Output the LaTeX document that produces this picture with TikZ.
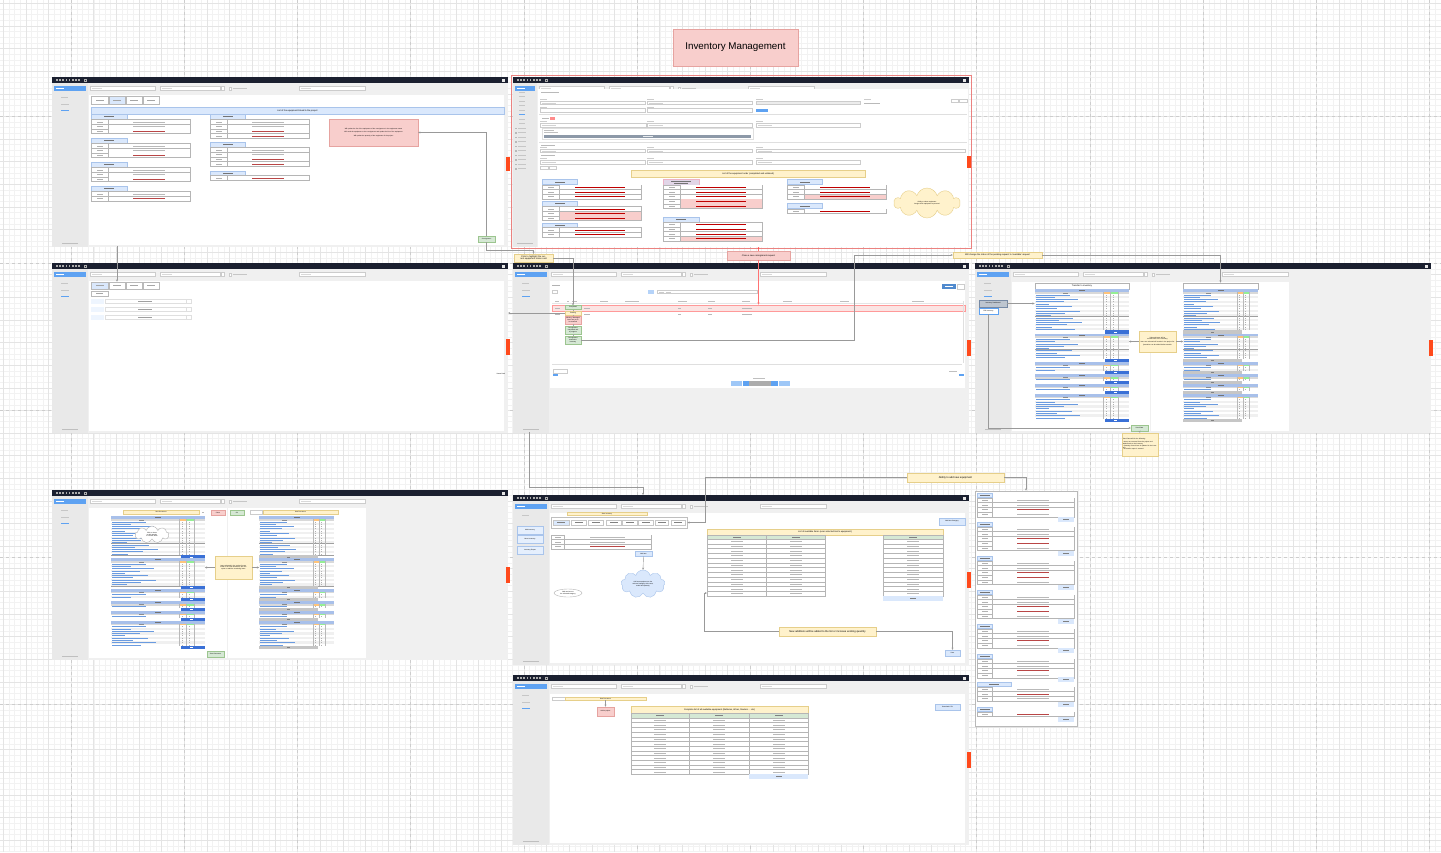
\documentclass[tikz,border=0pt]{standalone}
\usepackage{fontspec}
\setmainfont{Liberation Sans}
\usetikzlibrary{arrows.meta,shapes.symbols,shapes.geometric,calc}
\definecolor{topbar}{HTML}{1B2030}
\definecolor{scrbg}{HTML}{F0F0F0}
\definecolor{sidebg}{HTML}{E9E9E9}
\definecolor{hlblue}{HTML}{5EA2F2}
\definecolor{lblue}{HTML}{DAE8FC}
\definecolor{lblueB}{HTML}{A9C4EB}
\definecolor{yel}{HTML}{FFF2CC}
\definecolor{yelB}{HTML}{E6CF8A}
\definecolor{pnk}{HTML}{F8CECC}
\definecolor{pnkB}{HTML}{E6A3A0}
\definecolor{grn}{HTML}{D5E8D4}
\definecolor{grnB}{HTML}{9CC58F}
\definecolor{purp}{HTML}{E1D5E7}
\definecolor{orangetab}{HTML}{FF4A1C}
\definecolor{shhdr}{HTML}{A8C0EA}
\definecolor{shbtn}{HTML}{3A70D6}
\definecolor{shtxt}{HTML}{6A9BE0}
\definecolor{tblc}{HTML}{B5B5B5}
\definecolor{gridminor}{HTML}{F2F2F2}
\definecolor{gridmajor}{HTML}{E4E4E4}
\definecolor{pageline}{HTML}{CDCDCD}
\definecolor{conc}{HTML}{999999}
\definecolor{slatebar}{HTML}{8D99A8}
\colorlet{kcw}{white}
\colorlet{kcg}{gray!55}
\colorlet{kcr}{red!75!black}
\colorlet{kcm}{red!45!gray}
\colorlet{kcp}{pnk}
\newcommand{\tinyf}{\fontsize{2.2}{2.6}\selectfont}
\newcommand{\microf}{\fontsize{1.6}{1.9}\selectfont}
\newcommand{\labf}{\fontsize{2.6}{3}\selectfont}
\def\vbw{0.4}
\tikzset{
 con/.style={draw=conc,line width=0.4pt,-{Stealth[length=2.2pt,width=2pt]}},
 rcon/.style={draw=red!55,line width=0.6pt},
 tbl/.style={draw=tblc,line width=0.5pt},
 inp/.style={draw=gray!40,fill=white,line width=0.3pt},
 lbl/.style={draw=yelB,fill=yel,line width=0.4pt,font=\tinyf,align=center,inner sep=0.4pt},
 plbl/.style={draw=pnkB,fill=pnk,line width=0.4pt,font=\tinyf,align=center,inner sep=0.4pt},
 gbtn/.style={draw=grnB,fill=grn,line width=0.4pt,font=\microf,align=center,inner sep=0.2pt},
 bbtn/.style={draw=lblueB,fill=lblue,line width=0.4pt,font=\microf,align=center,inner sep=0.2pt},
 ybar/.style={draw=yelB,fill=yel,line width=0.3pt,font=\microf,inner sep=0},
 stat/.style={line width=0.3pt,minimum width=16pt,inner sep=0.2pt,font=\microf,align=center},
}
% screen chrome, #1 = sidebar width
\newcommand{\chrome}[1]{%
 \fill[scrbg] (0,0) rectangle (456,170);
 \fill[topbar] (0,0) rectangle (456,6);
 \foreach \k in {0,...,7}{\fill[gray!65] ({4+\k*3.2},2.4) rectangle ++(1.6,1.3);}
 \draw[gray!65,line width=0.3pt] (32,1.8) rectangle ++(2,2.4);
 \fill[gray!20] (450.3,1.5) rectangle ++(3,3);
 \fill[sidebg] (0,6) rectangle (#1,170);
 \fill[hlblue] (1.5,9) rectangle ({#1-2},14);
 \fill[white] (4,11.2) rectangle ++(8,0.7);
 \fill[gray!50] ({#1/2-8},166) rectangle ++(16,0.7);
 \begin{scope}[shift={({#1-36},0)}]
  \draw[inp] (38,9.5) rectangle (103,13.5);
  \fill[gray!30] (40,11.2) rectangle ++(10,0.6);
  \draw[inp] (108,9.5) rectangle (168,13.5);
  \fill[gray!30] (110,11.2) rectangle ++(10,0.6);
  \draw[inp] (169,9.5) rectangle (172,13.5);
  \draw[inp] (177,10.3) rectangle ++(2.4,2.4);
  \fill[gray!45] (181,11.2) rectangle ++(14,0.6);
  \draw[inp] (247,9.5) rectangle (313,13.5);
  \fill[gray!30] (249,11.2) rectangle ++(10,0.6);
 \end{scope}
}
\newcommand{\sideitems}{%
 \fill[gray!45] (9,20) rectangle ++(7,0.7);
 \fill[gray!45] (9,26.5) rectangle ++(8,0.7);
 \fill[hlblue] (9,33) rectangle ++(8,0.7);}
% group header
\newcommand{\ghdr}[4]{\filldraw[draw=lblueB,fill=lblue,line width=0.4pt] (#1,#2) rectangle ++(#3,#4);
 \fill[black!55] ({#1+#3/2-5},{#2+#4/2-0.3}) rectangle ++(10,0.6);}
% key/value row: x,y,w,labelw,fill,textcolor
\newcommand{\krow}[6]{%
 \filldraw[tbl,fill=white] (#1,#2) rectangle ++(#3,4.7);
 \fill[#5] ({#1+#4+0.3},{#2+0.3}) rectangle ({#1+#3-0.3},{#2+4.4});
 \draw[tbl] ({#1+#4},#2) -- ++(0,4.7);
 \fill[gray!60] ({#1+#4/2-3},{#2+2.05}) rectangle ++(6,0.6);
 \fill[#6] ({#1+#4+(#3-#4)*(1-\vbw)/2},{#2+2.05}) rectangle ++({(#3-#4)*\vbw},0.6);}
\newcommand{\kv}[5]{\foreach \kf/\kc [count=\kr] in {#5}{\pgfmathsetmacro\kyy{#2+(\kr-1)*4.7}\krow{#1}{\kyy}{#3}{#4}{\kf}{\kc}}}
% spreadsheet section: x,y,w,nrows,mode(b/g)
\newcommand{\shsec}[5]{%
 \pgfmathsetmacro\shh{4.3+#4*2.3}%
 \fill[shhdr] (#1,#2) rectangle ++(#3,2.5);
 \fill[black!55] ({#1+#3/2-3},{#2+1}) rectangle ++(6,0.5);
 \fill[gray!30] (#1,{#2+2.5}) rectangle ++(#3,1.8);
 \fill[yel!60!orange] ({#1+0.72*#3},{#2+2.5}) rectangle ++({0.08*#3},1.8);
 \fill[grn!70!green] ({#1+0.8*#3},{#2+2.5}) rectangle ++({0.08*#3},1.8);
 \fill[black!45] ({#1+0.3*#3},{#2+3.2}) rectangle ++(5,0.4);
 \foreach \i in {1,...,#4}{%
  \pgfmathsetmacro\shRy{#2+4.3+(\i-1)*2.3}%
  \pgfmathsetmacro\shRl{0.12*#3+mod(\i*37,23)/23*0.4*#3}%
  \pgfmathtruncatemacro\shMd{mod(\i,2)}%
  \ifnum\shMd=0 \fill[gray!12] (#1,\shRy) rectangle ++(#3,2.3);\fi
  \fill[shtxt] ({#1+1},{\shRy+0.9}) rectangle ++(\shRl,0.5);
  \fill[gray!60] ({#1+0.75*#3},{\shRy+0.9}) rectangle ++(1.2,0.5);
  \fill[gray!60] ({#1+0.83*#3},{\shRy+0.9}) rectangle ++(1.2,0.5);
  \pgfmathtruncatemacro\shMf{mod(\i,5)}%
  \ifnum\shMf=0 \draw[gray!75,line width=0.4pt] (#1,{\shRy+2.3}) -- ++(#3,0);\fi
 }%
 \draw[gray!55,line width=0.3pt] ({#1+0.72*#3},{#2+2.5}) -- ({#1+0.72*#3},{#2+\shh});
 \draw[gray!55,line width=0.3pt] ({#1+0.8*#3},{#2+2.5}) -- ({#1+0.8*#3},{#2+\shh});
 \draw[gray!55,line width=0.3pt] ({#1+0.88*#3},{#2+2.5}) -- ({#1+0.88*#3},{#2+\shh});
 \pgfmathsetmacro\shBy{#2+\shh}%
 \if#5b
  \fill[shbtn] ({#1+0.74*#3},\shBy) rectangle ({#1+#3},{\shBy+3.3});
  \fill[white] ({#1+0.84*#3},{\shBy+1.4}) rectangle ++(3,0.5);
 \else
  \fill[gray!45] (#1,\shBy) rectangle ({#1+0.78*#3},{\shBy+3.3});
  \fill[black!50] ({#1+0.37*#3},{\shBy+1.4}) rectangle ++(3,0.5);
 \fi}
\newcommand{\sheet}[5]{%
 \xdef\shCur{#2}%
 \foreach \n in {#5}{%
  \shsec{#1}{\shCur}{#3}{\n}{#4}%
  \pgfmathsetmacro\shTmp{\shCur+7.6+\n*2.3}%
  \xdef\shCur{\shTmp}%
 }}
% right column group
\newcommand{\rcgrp}[4]{\ghdr{977}{#1}{#2}{4.5}\kv{977}{#1+5}{97}{15}{#3}%
 \fill[lblue] (1058,#4) rectangle ++(16,4.5); \fill[black!50] (1063,#4+2) rectangle ++(6,0.6);}

\begin{document}
\begin{tikzpicture}[x=1pt,y=-1pt]
\useasboundingbox (0,0) rectangle (1441,852);
\fill[white] (0,0) rectangle (1441,852);
% grid
\foreach \i in {0,...,254}{\draw[gridminor,line width=0.25pt] ({3.08+\i*5.66},0) -- ++(0,852);}
\foreach \i in {0,...,150}{\draw[gridminor,line width=0.25pt] (0,{3.2+\i*5.654}) -- ++(1441,0);}
\foreach \i in {0,...,63}{\draw[gridmajor,line width=0.3pt] ({3.08+\i*22.64},0) -- ++(0,852);}
\foreach \i in {0,...,37}{\draw[gridmajor,line width=0.3pt] (0,{3.2+\i*22.616}) -- ++(1441,0);}
\foreach \i in {0,...,12}{\draw[pageline,dashed,line width=0.35pt] ({71+\i*113.2},0) -- ++(0,852);}
\foreach \i in {0,...,4}{\draw[pageline,dashed,line width=0.35pt] (0,{116.3+\i*147}) -- ++(1441,0);}

% title
\node[draw=pnkB,fill=pnk,line width=0.5pt,minimum width=125pt,minimum height=37pt,inner sep=0,font=\fontsize{9.8}{12}\selectfont] (title) at (735.5,47.5) {Inventory Management};

%================ S1
\begin{scope}[shift={(52,77)}]
\chrome{36}\sideitems
\fill[white] (37,18) rectangle (452,168);
\foreach \a/\b/\f in {39/56/white,57/73/lblue,74/90/white,91/107/white}{\filldraw[draw=gray!55,line width=0.7pt,fill=\f] (\a,19) rectangle (\b,27);\fill[gray!70] ({(\a+\b)/2-4},22.7) rectangle ++(8,0.6);}
\node[draw=lblueB,fill=lblue,line width=0.4pt,minimum width=413pt,minimum height=6.5pt,inner sep=0,font=\tinyf] (ban1) at (245.5,33.5) {List of the equipment linked to the project};
\ghdr{39}{37}{36}{5}\kv{39}{42.5}{99}{17}{kcw/kcg,kcw/kcg,kcw/kcm}
\ghdr{39}{61}{36}{5}\kv{39}{66.5}{99}{17}{kcw/kcg,kcw/kcg,kcw/kcm}
\ghdr{39}{85}{36}{5}\kv{39}{90.5}{99}{17}{kcw/kcg,kcw/kcg,kcw/kcm}
\ghdr{39}{109}{36}{5}\kv{39}{114.5}{99}{17}{kcw/kcg,kcw/kcm}
\ghdr{158}{37}{35}{5}\kv{158}{42.5}{99}{17}{kcw/kcg,kcw/kcg,kcw/kcm,kcw/kcm}
\ghdr{158}{65}{35}{5}\kv{158}{70.5}{99}{17}{kcw/kcg,kcw/kcg,kcw/kcm,kcw/kcm}
\ghdr{158}{94}{35}{4.5}\kv{158}{98.5}{99}{17}{kcw/kcm}
\node[plbl,font=\microf,minimum width=89pt,minimum height=27pt,text width=86pt] (p1) at (321.5,55.5) {Will update the list of the equipment of the consignment in the equipment status\\[1.2pt] Will send the equipment to the consignment and update the list of the equipment\\[1.2pt] Will update the quantity of the equipment of the project};
\node[gbtn,minimum width=17pt,minimum height=6pt] (g1) at (434.5,162) {Consignment};
\fill[orangetab] (454,80) rectangle (458,94);
\end{scope}

%================ S2
\begin{scope}[shift={(513,77)}]
\def\vbw{0.6}
\chrome{24}
\foreach \yy in {14.5,19,23.5,28,32.5,41.5,46}{\fill[gray!45] (6,\yy) rectangle ++(6,0.6);}
\fill[hlblue] (6,37) rectangle ++(6,0.6);
\foreach \yy in {50.5,55,...,92}{\fill[gray!55] (2,\yy) rectangle ++(1.5,1.5); \fill[gray!45] (5,{\yy+0.4}) rectangle ++(8,0.6);}
\fill[white] (25,12) rectangle (455,170);
\fill[gray!55] (28,14.5) rectangle ++(18,0.8);
\foreach \a in {438,446.5}{\draw[inp] (\a,22.5) rectangle ++(7.5,2.5);}
\foreach \a/\b in {27/132,134/239}{\fill[gray!40] (\a,22.3) rectangle ++(7,0.5); \draw[inp] (\a,24) rectangle (\b,27.5); \fill[gray!35] ({\a+2},25.5) rectangle ++(14,0.5);}
\fill[gray!40] (243,22.3) rectangle ++(7,0.5); \filldraw[draw=gray!40,fill=gray!15,line width=0.3pt] (243,24) rectangle (347,27.5);
\fill[gray!40] (351,22.3) rectangle ++(7,0.5); \fill[gray!55] (351,25.5) rectangle ++(16,0.6);
\foreach \a/\b in {27/132,134/239}{\fill[gray!40] (\a,29.5) rectangle ++(7,0.5); \draw[inp] (\a,31.5) rectangle (\b,35);}
\fill[hlblue] (243,31.5) rectangle (255,35);
\draw[gray!25,line width=0.3pt] (26,37) -- (454,37);
\fill[gray!55] (29,40.8) rectangle ++(7,0.6); \fill[red!45] (37,39.8) rectangle (42,42.6);
\foreach \a/\b in {27/133,134/239,243/347}{\fill[gray!40] (\a,43.8) rectangle ++(7,0.5); \draw[inp] (\a,46) rectangle (\b,49.7); \fill[gray!35] ({\a+2},47.6) rectangle ++(14,0.5);}
\draw[gray!25,line width=0.3pt] (29,51) rectangle (240,62.5);
\fill[gray!50] (31,52.8) rectangle ++(10,0.5); \fill[gray!50] (31,54.8) rectangle ++(14,0.5);
\fill[slatebar] (31,57.5) rectangle (238,61);
\fill[white!80!slatebar] (130,58.9) rectangle ++(10,0.6);
\draw[gray!25,line width=0.3pt] (26,65) -- (454,65);
\fill[gray!55] (28,67.5) rectangle ++(14,0.6);
\foreach \a/\b in {27/132,134/239,243/452}{\fill[gray!40] (\a,69.7) rectangle ++(7,0.5); \draw[inp] (\a,72) rectangle (\b,75.5); \fill[gray!35] ({\a+2},73.5) rectangle ++(14,0.5);}
\fill[gray!55] (28,78) rectangle ++(14,0.6);
\foreach \a/\b in {27/132,134/239,243/347}{\fill[gray!40] (\a,80.7) rectangle ++(7,0.5); \draw[inp] (\a,83) rectangle (\b,87); \fill[gray!35] ({\a+2},84.8) rectangle ++(14,0.5);}
\draw[inp] (27,88.7) rectangle (35,92); \draw[inp] (36,88.7) rectangle (43,92);
\node[draw=yelB,fill=yel,line width=0.4pt,minimum width=234pt,minimum height=7pt,inner sep=0,font=\tinyf] (ban2) at (235,96.5) {List of the equipment order (completed and unlinked)};
\ghdr{29}{102.3}{35}{5}\kv{29}{108}{99}{17}{kcw/kcr,kcw/kcr,kcw/kcr}
\ghdr{29}{124}{35}{5}\kv{29}{129.5}{99}{17}{kcw/kcr,kcp/kcr,kcp/kcr}
\ghdr{29}{146}{35}{4.7}\kv{29}{150.7}{99}{17}{kcw/kcr,kcw/kcr}
\filldraw[draw=purple!30,fill=purp,line width=0.4pt] (150,102.3) rectangle ++(36,5.7);
\fill[black!55] (158,104) rectangle ++(20,0.6); \fill[black!55] (161,105.8) rectangle ++(14,0.6);
\kv{150}{108}{99}{17}{kcw/kcr,kcw/kcr,kcw/kcr,kcp/kcr,kcp/kcr}
\ghdr{150}{140}{36}{5}\kv{150}{145.3}{99}{17}{kcw/kcr,kcw/kcr,kcw/kcr,kcp/kcr}
\ghdr{274}{102.3}{35}{5}\kv{274}{108}{99}{17}{kcw/kcr,kcw/kcr,kcp/kcr}
\ghdr{274}{126.3}{35}{5}\kv{274}{132}{99}{17}{kcw/kcr}
\node[cloud,cloud puffs=10,aspect=2.2,draw=yelB,fill=yel,line width=0.4pt,minimum width=66pt,minimum height=30pt,inner sep=0,font=\microf,align=center] (cl2) at (414,126) {Ability to select equipment\\Assign which equipment to proceed};
\fill[orangetab] (454,79) rectangle (458,91);
\end{scope}
\draw[pnkB!80!red,line width=0.6pt] (511,75) rectangle (971,248);

%================ S3
\begin{scope}[shift={(52,263)}]
\chrome{36}\sideitems
\fill[white] (37,18) rectangle (452,168);
\foreach \a/\b/\f [count=\k] in {39/56/lblue,57/73/white,74/90/white,91/107/white}{\node[draw=gray!55,line width=0.7pt,fill=\f,minimum width={\b-\a},minimum height=7pt,inner sep=0] (tab3-\k) at ({(\a+\b)/2},22.5) {}; \fill[gray!70] ({(\a+\b)/2-4},22.2) rectangle ++(8,0.6);}
\filldraw[draw=gray!55,line width=0.7pt,fill=white] (39,28) rectangle (56,33); \fill[gray!70] (44,30.2) rectangle ++(7,0.6);
\foreach \yy in {36,44,52}{\fill[lblue!45] (39,\yy) rectangle (52,{\yy+4.5}); \draw[gray!25,line width=0.3pt] (53,\yy) rectangle (134,{\yy+4.5}); \draw[gray!25,line width=0.3pt] (134,\yy) rectangle (139,{\yy+4.5}); \fill[gray!75] (86,{\yy+2}) rectangle ++(14,0.6);}
\node[font=\microf,inner sep=0] (sb3) at (449,111) {Status Back};
\fill[orangetab] (454,76) rectangle (458,92);
\end{scope}

%================ S4
\begin{scope}[shift={(513,263)}]
\chrome{36}\sideitems
\fill[white] (37,18) rectangle (452,125);
\fill[gray!60] (39,21.5) rectangle ++(8,0.7);
\fill[hlblue!85!black] (429,21) rectangle (443,26); \fill[white] (432,23.2) rectangle ++(8,0.5);
\draw[inp] (444,21) rectangle (451,26);
\draw[inp] (39,27.5) rectangle (44,30.5); \fill[lblue!70!hlblue] (135,27) rectangle (141,31);
\draw[inp] (144,27.5) rectangle (244,30.5); \fill[gray!40] (146,28.7) rectangle ++(5,0.6); \fill[gray!40] (153,28.7) rectangle ++(5,0.6);
\foreach \a/\l in {42/4,54/2,59/5,87/8,112/14,165/9,195/7,229/8,270/9,327/9,399/12}{\fill[gray!50] (\a,38.2) rectangle ++(\l,0.6);}
\draw[gray!20,line width=0.3pt] (39,40.5) -- (450,40.5);
\node[draw=red!40,fill=pnk!55,line width=0.6pt,minimum width=413pt,minimum height=6pt,inner sep=0] (row4) at (245.5,45) {};
\foreach \yy in {44.7,50.5}{\foreach \a/\l in {42/5,71/6,165/3,195/4,229/10}{\fill[gray!55] (\a,\yy) rectangle ++(\l,0.6);}}
\node[stat,draw=grnB,fill=grn,minimum height=4pt] (st1) at (60,44.5) {Completed};
\node[stat,draw=yelB,fill=yel,minimum height=4pt] (st2) at (60,50) {Pending};
\node[stat,draw=pnkB,fill=pnk,minimum height=8pt] (st3) at (60,57) {Missing / damaged\\items are yet to\\be returned};
\node[stat,draw=grnB,fill=grn,minimum height=8pt] (st4) at (60,67) {Consignment\\completed and\\in progress};
\node[stat,draw=grnB,fill=grn,minimum height=8pt] (st5) at (60,77) {Consignment\\returned to\\inventory};
\foreach \u/\v in {st1/st2,st2/st3,st3/st4,st4/st5}{\draw[gray!70,line width=0.3pt] (\u.south) -- (\v.north);}
\draw[gray!25,line width=1pt] (39,101) -- (449,101);
\draw[gray!25,line width=0.8pt] (450,38) -- (450,100);
\draw[inp] (40,106) rectangle (54,110);
\fill[hlblue] (40,111) rectangle (45,113);
\fill[hlblue] (446,111) rectangle (451,113);
\fill[gray!50] (436,108) rectangle ++(8,0.6);
\fill[hlblue!60] (218,118) rectangle (229,123);
\fill[hlblue] (230,118) rectangle (265,123);
\fill[gray!65] (236,118) rectangle (258,123);
\fill[hlblue!60] (266,118) rectangle (277,123);
\fill[gray!50] (240,114.5) rectangle ++(12,0.6);
\fill[orangetab] (454,77) rectangle (458,93);
\end{scope}

%================ S5
\begin{scope}[shift={(975,263)}]
\chrome{36}\sideitems
\fill[white] (37,19) rectangle (175,168);
\fill[white] (176,19) rectangle (314,168);
\node[draw=gray!60,fill=white,line width=0.6pt,minimum width=94pt,minimum height=6pt,inner sep=0,font=\tinyf] (t5l) at (107,23) {Transfer to inventory};
\node[draw=gray!60,fill=white,line width=0.6pt,minimum width=75pt,minimum height=6pt,inner sep=0,font=\tinyf] (t5r) at (245.5,23) {};
\sheet{60}{26.3}{94}{b}{16,9,2,1,1,9}
\sheet{208}{26.3}{75}{g}{16,9,2,1,1,9}
\node[draw=lblueB!70!black,fill=lblue!60!gray!90,line width=0.4pt,minimum width=28pt,minimum height=7pt,inner sep=0,font=\microf] (sb5a) at (18,40.5) {Inventory Dashboard};
\node[draw=hlblue,fill=white,line width=0.4pt,minimum width=19pt,minimum height=6pt,inner sep=0,font=\microf] (sb5b) at (13.5,48) {Edit Inventory};
\node[lbl,font=\microf,minimum width=37pt,minimum height=21pt,text width=35pt] (n5) at (182.5,78.5) {Selected items will be moved back to the inventory\\[1pt] Items not selected will remain in the project list\\[1pt] Quantities can be edited before transfer};
\node[gbtn,minimum width=17pt,minimum height=6pt] (gs5) at (164.5,165) {Send Data};
\node[lbl,font=\microf,minimum width=36pt,minimum height=23pt,text width=34pt,align=left] (nl5) at (165,181.5) {Send Data will do the following:\\[0.6pt] \textbullet{} Items are removed from the project and added back to the inventory\\ \textbullet{} Quantity of each item is updated in the inventory\\ \textbullet{} A transfer report is created};
\fill[orangetab] (454,77) rectangle (458,93);
\end{scope}

%================ S6
\begin{scope}[shift={(52,490)}]
\chrome{36}\sideitems
\fill[white] (37,18) rectangle (175,168);
\fill[white] (176,18) rectangle (314,168);
\node[ybar,minimum width=76pt,minimum height=4pt] (t6l) at (109,22) {New Document};
\fill[gray!55] (150,21.7) rectangle ++(1.5,0.6);
\node[draw=pnkB,fill=pnk,line width=0.4pt,minimum width=14pt,minimum height=5pt,inner sep=0,font=\microf] (rb6) at (166,22.5) {Close};
\node[gbtn,minimum width=14pt,minimum height=5pt] (gb6) at (185,22.5) {Ok};
\sheet{59}{26.3}{94}{b}{15,10,2,1,1,9}
\node[cloud,cloud puffs=9,aspect=2,draw=gray!60,fill=white,line width=0.4pt,minimum width=34pt,minimum height=17pt,inner sep=0,font=\microf,align=center] (cl6) at (100,44.5) {Click on items\\to edit quantity\\or remove them};
\draw[inp] (198,20) rectangle (210,24);
\node[ybar,minimum width=75pt,minimum height=4pt] (t6r) at (248.5,22) {New Document};
\sheet{207}{26.3}{75}{g}{15,10,2,1,1,9}
\node[lbl,font=\microf,minimum width=37pt,minimum height=23pt,text width=35pt] (n6) at (181.5,77.5) {Items selected in the project list are listed in the new document, with the option to add the remaining items};
\node[gbtn,minimum width=17pt,minimum height=6pt] (sv6) at (163.5,164) {Save Document};
\fill[orangetab] (454,77) rectangle (458,93);
\end{scope}

%================ S7
\begin{scope}[shift={(513,495)}]
\chrome{36}
\fill[gray!45] (9,20) rectangle ++(7,0.7);
\fill[white] (37,18) rectangle (452,168);
\node[draw=lblueB,fill=lblue!70,line width=0.4pt,minimum width=26pt,minimum height=8pt,inner sep=0,font=\microf] (sb7a) at (17,35) {Add Inventory};
\node[draw=lblueB,fill=lblue!70,line width=0.4pt,minimum width=26pt,minimum height=8pt,inner sep=0,font=\microf] (sb7b) at (17,44.5) {Move Inventory};
\node[draw=lblueB,fill=lblue!70,line width=0.4pt,minimum width=26pt,minimum height=8pt,inner sep=0,font=\microf] (sb7c) at (17,55) {Inventory Report};
\node[ybar,minimum width=80pt,minimum height=3.5pt] (t7) at (94,18.8) {Start Inventory};
\node[draw=gray!50,line width=0.7pt,minimum width=136pt,minimum height=11pt,inner sep=0] (tabs7) at (106,27.5) {};
\foreach \a/\b/\f in {40/56/lblue,58/73/white,75/90/white,93/108/white,109/124/white,125/140/white,142/155/white,158/172/white}{\filldraw[draw=gray!45,line width=0.5pt,fill=\f] (\a,25) rectangle (\b,30); \fill[black!50] ({(\a+\b)/2-4},27.2) rectangle ++(8,0.6);}
\kv{38}{40}{100}{13}{kcw/kcg,kcw/kcg,kcw/kcm}
\node[bbtn,minimum width=17pt,minimum height=5pt] (bb7) at (130.5,58.5) {Add Item};
\node[cloud,cloud puffs=9,aspect=1.5,draw=lblueB,fill=lblue,line width=0.4pt,minimum width=44pt,minimum height=28pt,inner sep=0,font=\microf,align=center] (cl7) at (130,89) {Add new equipment to the\\selected category with name,\\model and quantity};
\node[ellipse,draw=gray!60,fill=white,line width=0.4pt,minimum width=28pt,minimum height=8pt,inner sep=0,font=\microf,align=center] (el7) at (55,98) {Add new item to\\the selected category};
\node[draw=yelB,fill=yel,line width=0.4pt,minimum width=236pt,minimum height=6pt,inner sep=0,font=\tinyf] (h7) at (312,37) {List of available Items (user selected item's equipment)};
\filldraw[tbl,fill=grn] (194,40) rectangle (253,44); \filldraw[tbl,fill=grn] (253,40) rectangle (312,44); \filldraw[tbl,fill=grn] (370,40) rectangle (430,44);
\foreach \a in {223.5,282.5,400}{\fill[black!50] ({\a-4},41.7) rectangle ++(8,0.6);}
\foreach \i in {0,...,11}{\pgfmathsetmacro\yy{44+\i*4.75}\foreach \a/\w in {194/59,253/59,370/60}{\filldraw[tbl,fill=white] (\a,\yy) rectangle ++(\w,4.75); \fill[gray!55] ({\a+\w/2-6},{\yy+2.1}) rectangle ++(12,0.6);}}
\coordinate (tb7w) at (194,98);
\fill[lblue] (370,101) rectangle (430,106); \fill[black!50] (397,103.2) rectangle ++(6,0.6);
\node[bbtn,minimum width=26pt,minimum height=7pt] (ac7) at (439,26.5) {Add New Category};
\node[bbtn,minimum width=15pt,minimum height=6pt] (b7) at (439.5,158) {Save};
\fill[orangetab] (454,77) rectangle (458,93);
\end{scope}

%================ S8
\begin{scope}[shift={(513,675)}]
\chrome{36}\sideitems
\fill[white] (37,19) rectangle (452,168);
\draw[inp] (39,22) rectangle (52,25);
\node[ybar,minimum width=81pt,minimum height=3pt] (t8) at (92.5,23.5) {New Document};
\node[draw=pnkB,fill=pnk,line width=0.5pt,minimum width=17pt,minimum height=9pt,inner sep=0,font=\microf] (pb8) at (92.5,36.5) {Add to project};
\node[draw=yelB,fill=yel,line width=0.4pt,minimum width=177pt,minimum height=7pt,inner sep=0,font=\tinyf] (h8) at (206.5,34.5) {Complete list of all available equipment (Batteries, Wires, Routers ... etc)};
\foreach \a/\w in {118/58,176/60,236/59}{\filldraw[tbl,fill=grn] (\a,38) rectangle ++(\w,5); \fill[black!50] ({\a+\w/2-4},40.2) rectangle ++(8,0.6);}
\foreach \i in {0,...,11}{\pgfmathsetmacro\yy{43+\i*4.7}\foreach \a/\w in {118/58,176/60,236/59}{\filldraw[tbl,fill=white] (\a,\yy) rectangle ++(\w,4.7); \fill[gray!55] ({\a+\w/2-6},{\yy+2.05}) rectangle ++(12,0.6);}}
\fill[lblue] (236,99.4) rectangle (295,104); \fill[black!50] (262.5,101.4) rectangle ++(6,0.6);
\node[bbtn,minimum width=25pt,minimum height=6pt] (dl8) at (434.5,32) {Download CSV};
\fill[orangetab] (454,77) rectangle (458,93);
\end{scope}

%================ right column
\node[draw=gray!55,fill=white,line width=0.7pt,minimum width=102pt,minimum height=235pt,inner sep=0] (rc) at (1026,608.5) {};
\rcgrp{493}{15}{kcw/kcg,kcw/kcg,kcw/kcm,kcw/kcg}{517}
\rcgrp{522}{15}{kcw/kcg,kcw/kcg,kcw/kcm,kcw/kcm,kcw/kcg}{551}
\rcgrp{556}{15}{kcw/kcg,kcw/kcg,kcw/kcm,kcw/kcm,kcw/kcg}{585}
\rcgrp{590}{15}{kcw/kcg,kcw/kcg,kcw/kcm,kcw/kcm,kcw/kcg}{619}
\rcgrp{624}{15}{kcw/kcg,kcw/kcg,kcw/kcm,kcw/kcg}{648}
\rcgrp{654}{15}{kcw/kcg,kcw/kcg,kcw/kcm,kcw/kcg}{677}
\rcgrp{682}{34}{kcw/kcg,kcw/kcm,kcw/kcg}{702}
\rcgrp{707}{15}{kcw/kcm}{717}

%================ labels between screens
\node[lbl,minimum width=39pt,minimum height=8pt,text width=37pt] (lblClick) at (533.5,258) {Click to highlight the current equipment status card};
\node[plbl,minimum width=63pt,minimum height=8.5pt] (lblClose) at (758.5,255.5) {Close a new consignment request};
\node[lbl,minimum width=89pt,minimum height=6.5pt] (lblWill) at (997.5,255) {Will change the status of the pending request to `available' request};
\node[lbl,font=\labf,minimum width=97pt,minimum height=9pt] (lblAbility) at (955.5,477.5) {Ability to add new equipment};
\node[lbl,font=\labf,minimum width=97pt,minimum height=9pt] (lblNew) at (827.5,631.5) {New additions will be added to the list or increase existing quantity};

%================ connectors
\coordinate (c1) at (486.5,250.5);
\coordinate (c2) at (854,255);
\coordinate (c3) at (705,477.5);
\coordinate (c4) at (704,593);
\coordinate (c5) at (643,487);
\coordinate (s1b) at (117,246);
\coordinate (s2b) at (758.5,248);
\coordinate (s3r) at (508,313);
\coordinate (s4b) at (529,432);
\coordinate (s7t) at (643,495);
\draw[con] (g1.north) |- (p1.east);
\draw[con] (g1.south) -- (c1) -| (lblClick.north);
\draw[con] (lblClick.east) -| (st1.north);
\draw[rcon] (s2b) -- (lblClose.north);
\fill[red!70] (s2b) circle (0.9);
\draw[rcon,-{Stealth[length=2.2pt,width=2pt]}] (lblClose.south) -- (lblClose.south |- row4.north);
\draw[con] (st5.east) -| (c2) -- (lblWill.west);
\draw[con] (lblWill.east) -| (t5r.north);
\draw[con] (sb5a.east) -- (sb5a.east -| t5l.west);
\draw[con] (n5.west) -- ++(-10,0);
\draw[con] (n5.east) -- ++(7,0);
\draw[con] (sb5b.south) |- (gs5.west);
\draw[con] (gs5.south) -- (nl5.north);
\draw[con] (s1b) -- (tab3-2.north);
\draw[con] (st2.west) -- (s3r);
\draw[con] (s4b) |- (c5) -- (s7t);
\draw[con] (n6.west) -- ++(-10,0);
\draw[con] (n6.east) -- ++(7,0);
\draw[con] (lblAbility.west) -- (c3) |- (tabs7.east);
\draw[con] (lblAbility.east) -| (rc.north);
\draw[con] (lblNew.west) -| (c4) -- (tb7w);
\draw[con] (lblNew.east) -| (b7.north);
\draw[con] (bb7.south) -- (cl7.north);
\draw[con] (t8.south) -- (pb8.north);
\end{tikzpicture}
\end{document}
